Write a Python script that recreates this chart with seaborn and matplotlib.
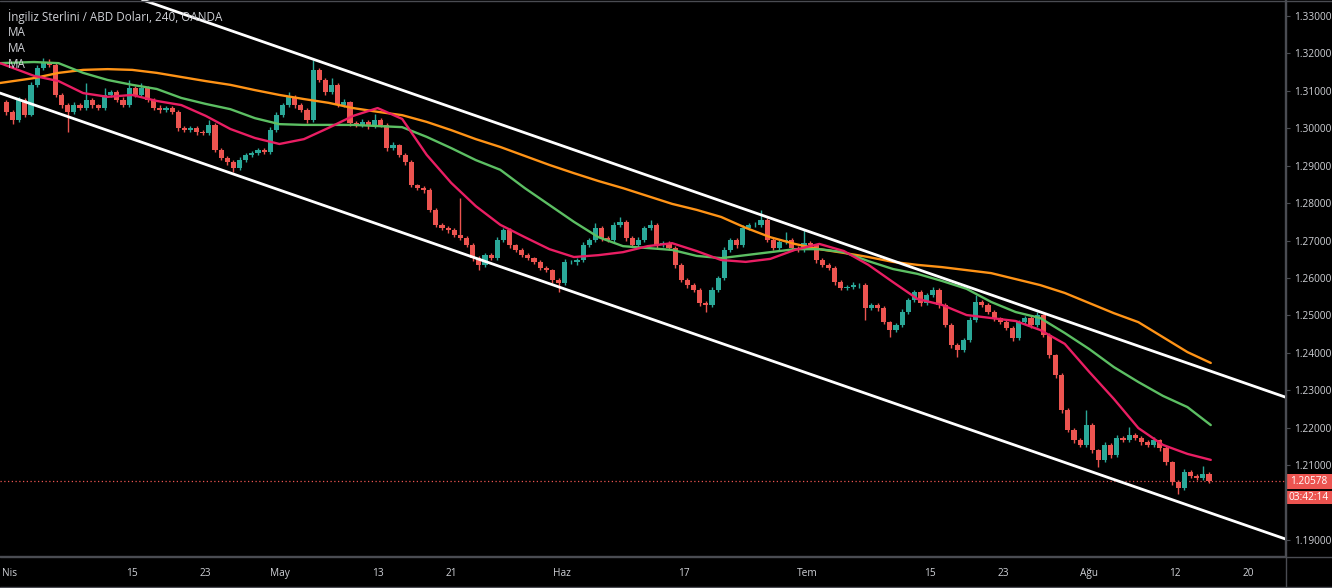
import numpy as np
import pandas as pd
import matplotlib
matplotlib.use("Agg")
import matplotlib.pyplot as plt
import seaborn as sns
from matplotlib.patches import Rectangle
from matplotlib.lines import Line2D

# ---------------- data ----------------
title_text = "İngiliz Sterlini / ABD Doları, 240, OANDA"
legend_labels = ["MA", "MA", "MA"]

first_open = 1.3070
closes = [
    1.3044, 1.3022, 1.3076, 1.3036, 1.3116, 1.3161, 1.3177, 1.3169, 1.3089, 1.3062,
    1.3044, 1.3062, 1.3054, 1.3076, 1.3062, 1.3054, 1.3089, 1.3097, 1.3076, 1.3062,
    1.3108, 1.3089, 1.3108, 1.3076, 1.3054, 1.3049, 1.3054, 1.3044, 1.3001, 1.2995,
    1.3001, 1.2990, 1.2987, 1.3009, 1.2942, 1.2921, 1.2910, 1.2894, 1.2915, 1.2929,
    1.2934, 1.2942, 1.2937, 1.2995, 1.3036, 1.3062, 1.3084, 1.3062, 1.3049, 1.3022,
    1.3156, 1.3129, 1.3097, 1.3116, 1.3062, 1.3070, 1.3014, 1.3009, 1.3017, 1.3006,
    1.3022, 1.3009, 1.2947, 1.2955, 1.2929, 1.2910, 1.2848, 1.2840, 1.2835, 1.2782,
    1.2742, 1.2734, 1.2728, 1.2715, 1.2707, 1.2688, 1.2653, 1.2635, 1.2661, 1.2653,
    1.2702, 1.2728, 1.2688, 1.2675, 1.2661, 1.2653, 1.2643, 1.2627, 1.2621, 1.2595,
    1.2587, 1.2643, 1.2643, 1.2648, 1.2688, 1.2702, 1.2734, 1.2707, 1.2702, 1.2742,
    1.2750, 1.2707, 1.2688, 1.2702, 1.2734, 1.2742, 1.2688, 1.2694, 1.2680, 1.2635,
    1.2595, 1.2581, 1.2568, 1.2533, 1.2528, 1.2568, 1.2600, 1.2675, 1.2702, 1.2688,
    1.2734, 1.2742, 1.2742, 1.2755, 1.2702, 1.2680, 1.2696, 1.2702, 1.2680, 1.2675,
    1.2694, 1.2688, 1.2648, 1.2635, 1.2627, 1.2589, 1.2573, 1.2576, 1.2581, 1.2581,
    1.2520, 1.2528, 1.2520, 1.2482, 1.2461, 1.2474, 1.2509, 1.2541, 1.2563, 1.2533,
    1.2555, 1.2568, 1.2528, 1.2474, 1.2421, 1.2408, 1.2434, 1.2488, 1.2536, 1.2528,
    1.2509, 1.2493, 1.2482, 1.2466, 1.2440, 1.2482, 1.2493, 1.2474, 1.2501, 1.2448,
    1.2394, 1.2341, 1.2247, 1.2194, 1.2167, 1.2154, 1.2207, 1.2140, 1.2114, 1.2154,
    1.2127, 1.2173, 1.2167, 1.2181, 1.2173, 1.2162, 1.2154, 1.2167, 1.2146, 1.2108,
    1.2055, 1.2039, 1.2082, 1.2071, 1.2066, 1.2077, 1.2058,
]
upper_wick_pips = [
    6, 5, 8, 4, 7, 9, 12, 8, 5, 4,
    6, 7, 5, 45, 6, 4, 19, 6, 5, 7,
    21, 5, 13, 6, 4, 7, 5, 6, 4, 5,
    6, 4, 5, 13, 5, 4, 6, 5, 7, 6,
    5, 6, 4, 8, 7, 6, 13, 5, 6, 4,
    26, 6, 5, 18, 5, 7, 4, 6, 8, 5,
    16, 5, 6, 7, 4, 5, 6, 4, 5, 6,
    5, 4, 6, 5, 99, 4, 5, 6, 7, 5,
    8, 6, 5, 4, 6, 5, 4, 6, 5, 4,
    5, 8, 6, 5, 7, 6, 13, 5, 6, 8,
    13, 5, 6, 7, 6, 13, 5, 6, 4, 5,
    4, 5, 6, 4, 5, 7, 6, 8, 6, 5,
    7, 6, 8, 27, 5, 4, 6, 21, 5, 6,
    34, 5, 4, 6, 5, 4, 5, 6, 7, 5,
    5, 6, 4, 5, 4, 6, 7, 6, 6, 5,
    6, 8, 5, 4, 5, 4, 6, 7, 19, 5,
    5, 6, 4, 5, 6, 7, 5, 6, 8, 4,
    5, 4, 6, 5, 4, 6, 40, 5, 4, 7,
    5, 8, 6, 21, 5, 6, 5, 7, 4, 5,
    4, 6, 8, 5, 6, 21, 5,
]
lower_wick_pips = [
    8, 10, 5, 6, 4, 5, 6, 5, 6, 7,
    54, 5, 6, 4, 7, 5, 6, 5, 6, 5,
    5, 6, 4, 6, 5, 7, 5, 6, 8, 6,
    5, 7, 6, 4, 6, 5, 7, 10, 5, 6,
    6, 5, 7, 5, 4, 6, 5, 7, 6, 8,
    6, 5, 7, 5, 6, 5, 8, 6, 5, 7,
    5, 6, 7, 5, 6, 7, 5, 6, 7, 6,
    6, 5, 7, 6, 5, 6, 7, 14, 5, 6,
    5, 6, 7, 5, 6, 5, 6, 7, 5, 8,
    24, 5, 6, 7, 5, 6, 5, 7, 6, 5,
    6, 7, 5, 6, 5, 6, 7, 5, 6, 7,
    6, 7, 6, 8, 19, 5, 6, 5, 6, 7,
    5, 6, 5, 6, 7, 6, 5, 6, 7, 5,
    6, 5, 7, 6, 5, 7, 6, 5, 6, 7,
    32, 6, 7, 6, 19, 5, 6, 5, 6, 7,
    5, 6, 7, 6, 8, 19, 5, 6, 5, 6,
    6, 7, 5, 6, 8, 5, 6, 7, 5, 6,
    7, 8, 9, 6, 7, 6, 5, 7, 19, 6,
    7, 5, 6, 5, 6, 7, 5, 6, 7, 8,
    7, 16, 5, 6, 5, 6, 5,
]

# moving averages, sampled along the trading-day axis
ma_days = [-0.77] + list(range(2, 97, 2)) + [97.9]
ma_fast = [
    1.3174, 1.3140, 1.3126, 1.3094, 1.3084, 1.3089, 1.3073, 1.3062, 1.3033, 1.2998,
    1.2974, 1.2958, 1.2971, 1.3001, 1.3033, 1.3054, 1.3025, 1.2929, 1.2854, 1.2792,
    1.2742, 1.2709, 1.2677, 1.2656, 1.2661, 1.2669, 1.2685, 1.2693, 1.2672, 1.2648,
    1.2643, 1.2651, 1.2675, 1.2691, 1.2672, 1.2635, 1.2589, 1.2544, 1.2528, 1.2501,
    1.2493, 1.2485, 1.2461, 1.2424, 1.2349, 1.2277, 1.2199, 1.2154, 1.2130, 1.2114,
]
ma_mid = [
    1.3174, 1.3177, 1.3174, 1.3148, 1.3129, 1.3116, 1.3105, 1.3081, 1.3065, 1.3051,
    1.3027, 1.3011, 1.3009, 1.3009, 1.3009, 1.3006, 1.3003, 1.2977, 1.2947, 1.2915,
    1.2889, 1.2840, 1.2795, 1.2750, 1.2709, 1.2685, 1.2680, 1.2675, 1.2659, 1.2653,
    1.2661, 1.2669, 1.2677, 1.2677, 1.2669, 1.2645, 1.2624, 1.2611, 1.2592, 1.2571,
    1.2536, 1.2509, 1.2493, 1.2453, 1.2410, 1.2362, 1.2322, 1.2285, 1.2255, 1.2207,
]
ma_slow = [
    1.3121, 1.3134, 1.3148, 1.3156, 1.3158, 1.3156, 1.3148, 1.3137, 1.3126, 1.3116,
    1.3102, 1.3089, 1.3078, 1.3068, 1.3054, 1.3044, 1.3035, 1.3017, 1.2995, 1.2971,
    1.2950, 1.2926, 1.2902, 1.2880, 1.2859, 1.2840, 1.2819, 1.2798, 1.2782, 1.2763,
    1.2734, 1.2709, 1.2691, 1.2677, 1.2667, 1.2656, 1.2643, 1.2635, 1.2629, 1.2621,
    1.2613, 1.2597, 1.2581, 1.2560, 1.2533, 1.2506, 1.2482, 1.2442, 1.2402, 1.2373,
]

channel_upper_days = [10.84, 103.95]
channel_upper = [1.3343, 1.2282]
channel_lower_days = [-0.77, 103.95]
channel_lower = [1.3094, 1.1903]

last_price = 1.20578
countdown = "03:42:14"

tick_days = [0, 10, 16, 22, 30, 36, 45, 55, 65, 75, 81, 88, 95, 101]
tick_labels = ["Nis", "15", "23", "May", "13", "21", "Haz", "17", "Tem", "15",
               "23", "Ağu", "12", "20"]
price_ticks = [1.19, 1.21, 1.22, 1.23, 1.24, 1.25, 1.26, 1.27, 1.28, 1.29,
               1.30, 1.31, 1.32, 1.33]

# ---------------- build table ----------------
n = len(closes)
df = pd.DataFrame({"close": closes})
df["open"] = [first_open] + closes[:-1]
df["day"] = 0.5 * np.arange(n) - 0.25
df["high"] = np.maximum(df["open"], df["close"]) + np.array(upper_wick_pips) * 1e-4
df["low"] = np.minimum(df["open"], df["close"]) - np.array(lower_wick_pips) * 1e-4

ma_df = pd.DataFrame({"day": ma_days, "fast": ma_fast, "mid": ma_mid, "slow": ma_slow})

# ---------------- style ----------------
sns.set_theme(style="dark")
plt.rcParams["font.family"] = ["Open Sans", "DejaVu Sans"]
TXT = "#cfd1d6"
AXC = "#4a4c52"
UP = "#2aa898"
DN = "#ec5450"

W, H = 1332, 588
fig = plt.figure(figsize=(W / 100, H / 100), dpi=100, facecolor="black")
ax = fig.add_axes([0, 1 - 556 / H, 1285 / W, 556 / H])
ax.set_facecolor("black")
ax.grid(False)

cols = np.where(df["close"] >= df["open"], UP, DN)
ax.vlines(df["day"], df["low"], df["high"], colors=cols, lw=1.0, zorder=2)
body = np.maximum((df["close"] - df["open"]).abs(), 0.00008)
ax.bar(df["day"], body, bottom=np.minimum(df["open"], df["close"]), width=0.42,
       color=cols, linewidth=0, zorder=2)

line_kw = dict(estimator=None, sort=False, zorder=3, solid_joinstyle="round",
               solid_capstyle="round")
sns.lineplot(data=ma_df, x="day", y="slow", ax=ax, color="#ff9316", lw=1.7, **line_kw)
sns.lineplot(data=ma_df, x="day", y="mid", ax=ax, color="#5cbf63", lw=1.7, **line_kw)
sns.lineplot(data=ma_df, x="day", y="fast", ax=ax, color="#e91e63", lw=1.7, **line_kw)
sns.lineplot(x=channel_upper_days, y=channel_upper, ax=ax, color="white", lw=2.0,
             estimator=None, sort=False, zorder=4)
sns.lineplot(x=channel_lower_days, y=channel_lower, ax=ax, color="white", lw=2.0,
             estimator=None, sort=False, zorder=4)

ax.axhline(last_price, color=DN, lw=0.9, ls=(0, (1, 2)), zorder=1)

ax.set_xlim(-0.774, 103.95)
ax.set_ylim(1.18572, 1.33427)
ax.set_xlabel("")
ax.set_ylabel("")

ax.yaxis.tick_right()
ax.set_yticks(price_ticks)
ax.set_yticklabels([f"{v:.5f}" for v in price_ticks])
ax.set_xticks(tick_days)
ax.set_xticklabels(tick_labels)
ax.tick_params(axis="both", colors=AXC, labelcolor=TXT, labelsize=7.3,
               length=3.5, width=0.8, direction="out")
ax.tick_params(axis="y", pad=3)
ax.tick_params(axis="x", pad=5)
for s in ["top", "left"]:
    ax.spines[s].set_visible(False)
for s in ["right", "bottom"]:
    ax.spines[s].set_color(AXC)
    ax.spines[s].set_linewidth(1.0)

# frame lines extending into axis areas
fig.add_artist(Line2D([0, 1], [1 - 556.5 / H] * 2, transform=fig.transFigure,
                      color=AXC, lw=1.0))
fig.add_artist(Line2D([1285.5 / W] * 2, [0, 1], transform=fig.transFigure,
                      color=AXC, lw=1.0))
fig.add_artist(Line2D([0, 1], [1 - 586.5 / H] * 2, transform=fig.transFigure,
                      color=AXC, lw=1.0))
fig.add_artist(Line2D([0, 1], [1 - 0.5 / H] * 2, transform=fig.transFigure,
                      color=AXC, lw=1.0))

# price + countdown boxes
fig.add_artist(Rectangle((1287 / W, 1 - 489 / H), 45 / W, 15 / H,
                         transform=fig.transFigure, color=DN, lw=0))
fig.text(1309 / W, 1 - 481.5 / H, f"{last_price:.5f}", color="white", size=7.3,
         ha="center", va="center")
fig.add_artist(Rectangle((1287 / W, 1 - 504 / H), 45 / W, 13 / H,
                         transform=fig.transFigure, color=DN, lw=0))
fig.text(1309 / W, 1 - 497.5 / H, countdown, color="white", size=7.3,
         ha="center", va="center")

# header texts
fig.text(8 / W, 1 - 17 / H, title_text, color=TXT, size=8.4, ha="left", va="center")
for i, lab in enumerate(legend_labels):
    fig.text(8 / W, 1 - (33 + 15.5 * i) / H, lab, color=TXT, size=8.4,
             ha="left", va="center")

fig.savefig("out.png", dpi=100, facecolor="black")
